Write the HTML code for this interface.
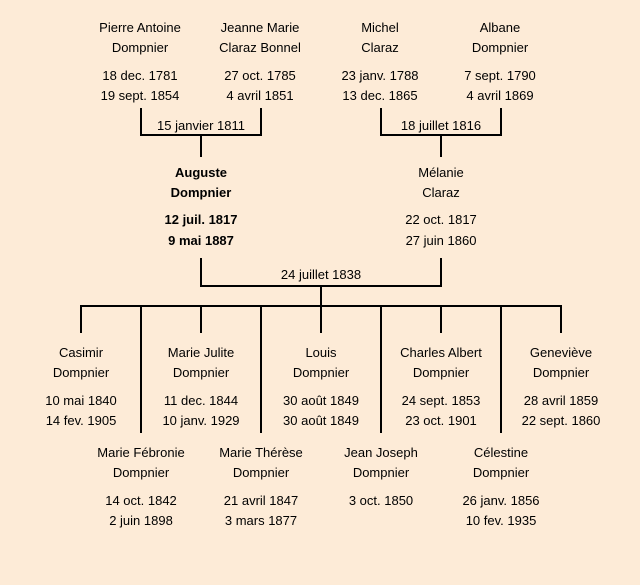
<!DOCTYPE html>
<html><head><meta charset="utf-8"><style>
html,body{margin:0;padding:0;background:#fdebd7;}
svg{display:block}
text{font-family:"Liberation Sans",sans-serif;font-size:13px;fill:#000;text-anchor:middle;}
.b{font-weight:bold}
</style></head><body>
<svg width="640" height="585" viewBox="0 0 640 585">
<rect width="640" height="585" fill="#fdebd7"/>
<g stroke="#000" stroke-width="2" fill="none">
<path d="M141 108V135H261V108M201 135V157"/>
<path d="M381 108V135H501V108M441 135V157"/>
<path d="M201 258V286H441V258M321 286V306"/>
<path d="M80 306H562"/>
<path d="M81 306V333M201 306V333M321 306V333M441 306V333M561 306V333"/>
<path d="M141 306V433M261 306V433M381 306V433M501 306V433"/>
</g>
<g>
<text x="140" y="32">Pierre Antoine</text><text x="140" y="52">Dompnier</text><text x="140" y="80">18 dec. 1781</text><text x="140" y="100">19 sept. 1854</text>
<text x="260" y="32">Jeanne Marie</text><text x="260" y="52">Claraz Bonnel</text><text x="260" y="80">27 oct. 1785</text><text x="260" y="100">4 avril 1851</text>
<text x="380" y="32">Michel</text><text x="380" y="52">Claraz</text><text x="380" y="80">23 janv. 1788</text><text x="380" y="100">13 dec. 1865</text>
<text x="500" y="32">Albane</text><text x="500" y="52">Dompnier</text><text x="500" y="80">7 sept. 1790</text><text x="500" y="100">4 avril 1869</text>
<text x="201" y="130">15 janvier 1811</text>
<text x="441" y="130">18 juillet 1816</text>
<text class="b" x="201" y="177">Auguste</text><text class="b" x="201" y="197">Dompnier</text><text class="b" x="201" y="224">12 juil. 1817</text><text class="b" x="201" y="245">9 mai 1887</text>
<text x="441" y="177">Mélanie</text><text x="441" y="197">Claraz</text><text x="441" y="224">22 oct. 1817</text><text x="441" y="245">27 juin 1860</text>
<text x="321" y="279">24 juillet 1838</text>
<text x="81" y="357">Casimir</text><text x="81" y="377">Dompnier</text><text x="81" y="405">10 mai 1840</text><text x="81" y="425">14 fev. 1905</text>
<text x="201" y="357">Marie Julite</text><text x="201" y="377">Dompnier</text><text x="201" y="405">11 dec. 1844</text><text x="201" y="425">10 janv. 1929</text>
<text x="321" y="357">Louis</text><text x="321" y="377">Dompnier</text><text x="321" y="405">30 août 1849</text><text x="321" y="425">30 août 1849</text>
<text x="441" y="357">Charles Albert</text><text x="441" y="377">Dompnier</text><text x="441" y="405">24 sept. 1853</text><text x="441" y="425">23 oct. 1901</text>
<text x="561" y="357">Geneviève</text><text x="561" y="377">Dompnier</text><text x="561" y="405">28 avril 1859</text><text x="561" y="425">22 sept. 1860</text>
<text x="141" y="457">Marie Fébronie</text><text x="141" y="477">Dompnier</text><text x="141" y="505">14 oct. 1842</text><text x="141" y="525">2 juin 1898</text>
<text x="261" y="457">Marie Thérèse</text><text x="261" y="477">Dompnier</text><text x="261" y="505">21 avril 1847</text><text x="261" y="525">3 mars 1877</text>
<text x="381" y="457">Jean Joseph</text><text x="381" y="477">Dompnier</text><text x="381" y="505">3 oct. 1850</text>
<text x="501" y="457">Célestine</text><text x="501" y="477">Dompnier</text><text x="501" y="505">26 janv. 1856</text><text x="501" y="525">10 fev. 1935</text>
</g>
</svg>
</body></html>
